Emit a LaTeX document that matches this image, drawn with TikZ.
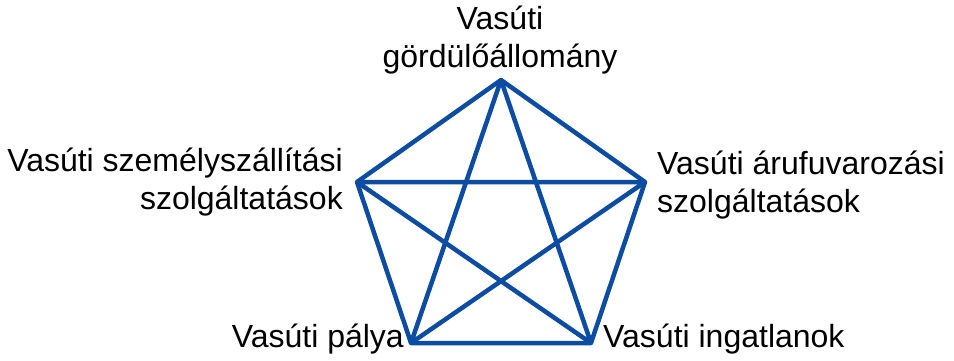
\documentclass[tikz,border=0pt]{standalone}
\usepackage{fontspec}
\setmainfont{Liberation Sans}
\definecolor{edgeblue}{RGB}{12,76,162}
\begin{document}
\begin{tikzpicture}[x=1pt,y=-1pt,
  edge/.style={draw=edgeblue,line width=4.5pt,line join=round,line cap=round},
  lbl/.style={font=\fontsize{32}{38}\selectfont,inner sep=0pt,text=black}]
\useasboundingbox (0,0) rectangle (954,361);
\coordinate (T) at (501,80);
\coordinate (L) at (357,182);
\coordinate (R) at (645,182);
\coordinate (BL) at (411,343);
\coordinate (BR) at (591,343);
\draw[edge] (T) -- (R) -- (BR) -- (BL) -- (L) -- cycle;
\draw[edge] (T) -- (BL) -- (R) -- (L) -- (BR) -- cycle;
\node[lbl,align=center,anchor=center] (tl) at (500,40) {Vasúti\\gördülőállomány};
\node[lbl,align=right,anchor=east] (ll) at (343,182) {Vasúti személyszállítási\\szolgáltatások};
\node[lbl,align=left,anchor=west] (rl) at (657,185) {Vasúti árufuvarozási\\szolgáltatások};
\node[lbl,anchor=east] (bll) at (404,339) {Vasúti pálya};
\node[lbl,anchor=west] (brl) at (603,339) {Vasúti ingatlanok};
\end{tikzpicture}
\end{document}
